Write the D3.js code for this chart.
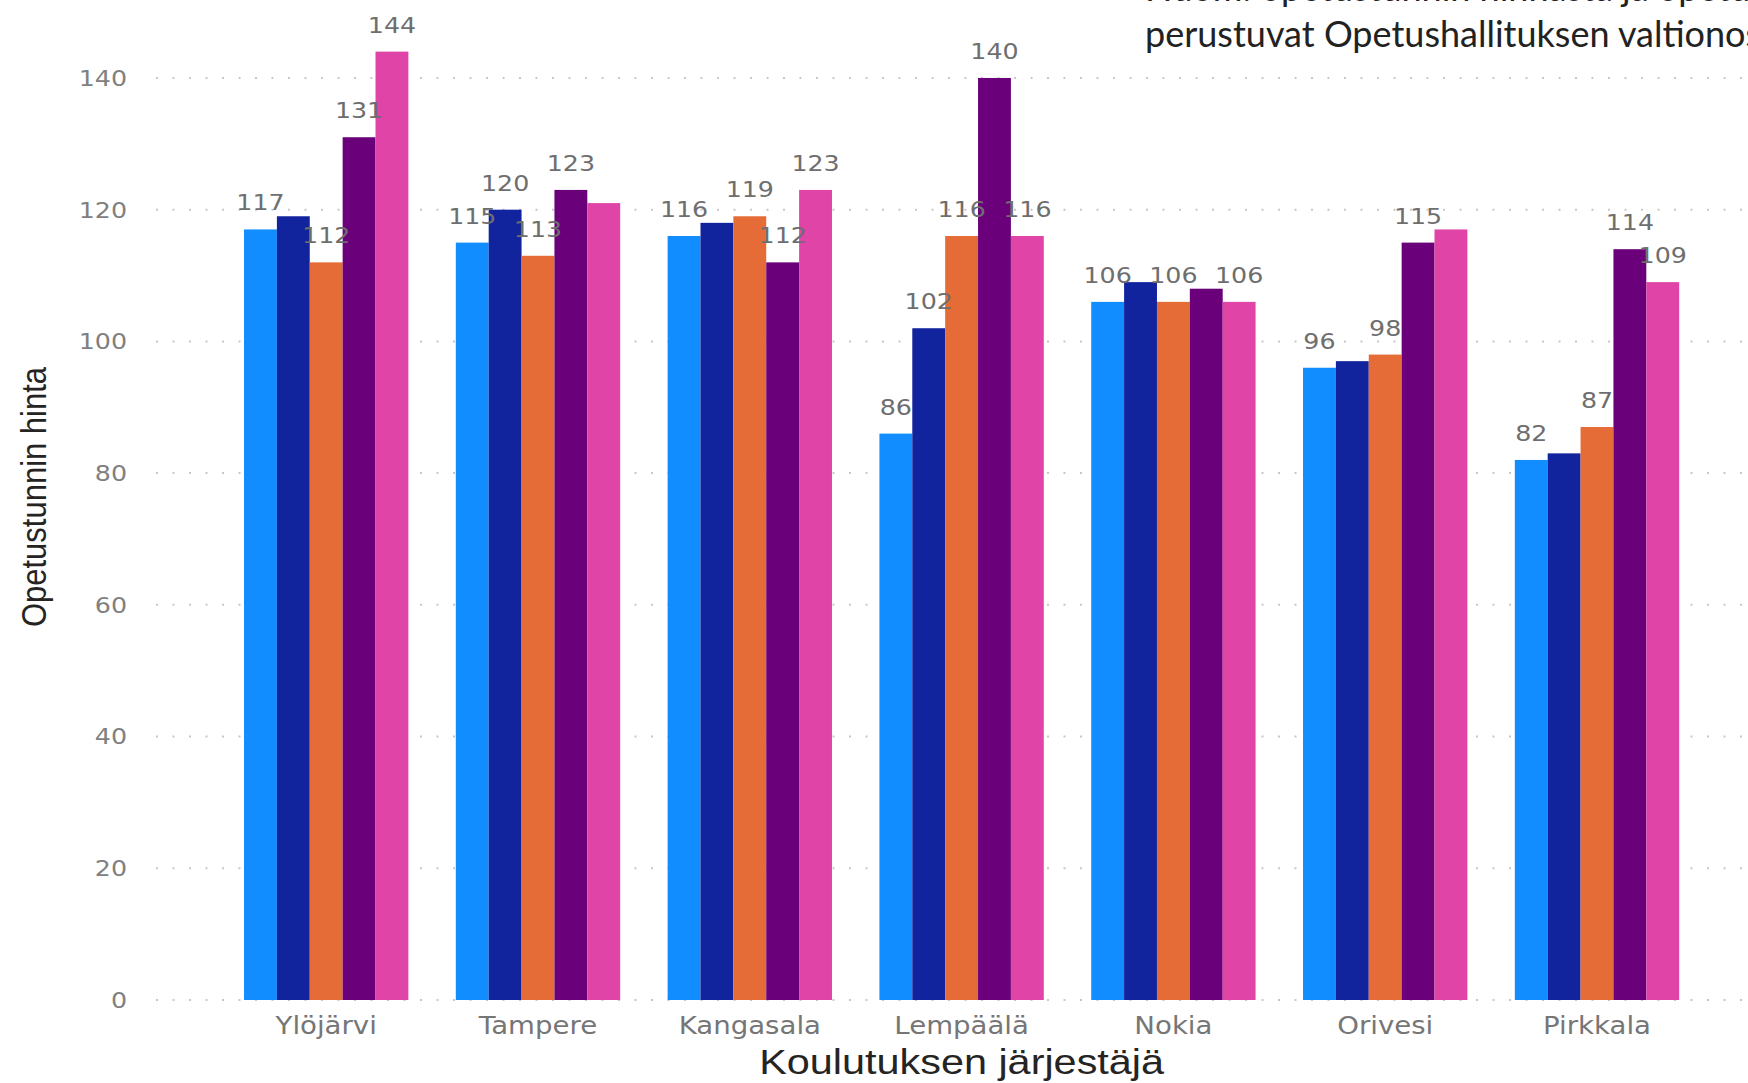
<!DOCTYPE html>
<meta charset="utf-8">
<style>
body { margin: 0; background: #fff; }
svg { display: block; }
.grid line { stroke: #c8c8c8; stroke-width: 2; stroke-dasharray: 2,14.5; }
.tick-label { font: 22px "DejaVu Sans"; fill: #808080; }
.cat-label { font: 24px "DejaVu Sans"; fill: #767676; }
.value-label { font: 22px "DejaVu Sans"; fill: #6e6e6e; }
.axis-title { font: 31px "Liberation Sans"; fill: #252423; }
.note { font: 36px Lato; fill: #222; }
</style>
<body>
<script src="https://cdn.jsdelivr.net/npm/d3@7/dist/d3.min.js"></script>
<script>

// organisers on the x axis
var categories = ["Ylöjärvi", "Tampere", "Kangasala", "Lempäälä", "Nokia", "Orivesi", "Pirkkala"];

// five series, one bar each per organiser (no legend in the picture)
var seriesNames = ["Sarja 1", "Sarja 2", "Sarja 3", "Sarja 4", "Sarja 5"];
var seriesColours = ["#118DFF", "#12239E", "#E66C37", "#6B007B", "#E044A7"];

var sarja1 = [117, 115, 116, 86, 106, 96, 82];
var sarja2 = [119, 120, 118, 102, 109, 97, 83];
var sarja3 = [112, 113, 119, 116, 106, 98, 87];
var sarja4 = [131, 123, 112, 140, 108, 115, 114];
var sarja5 = [144, 121, 123, 116, 106, 117, 109];

// which bars got a data label in the original (power bi hides overlapping ones)
var labels1 = [1, 1, 1, 1, 1, 1, 1];
var labels2 = [0, 1, 0, 1, 0, 0, 0];
var labels3 = [1, 1, 1, 1, 1, 1, 1];
var labels4 = [1, 1, 1, 1, 0, 1, 1];
var labels5 = [1, 0, 1, 1, 1, 0, 1];

var yTicks = [0, 20, 40, 60, 80, 100, 120, 140];

var yTitle = "Opetustunnin hinta";
var xTitle = "Koulutuksen järjestäjä";
var noteLines = ["Huom: opetustunnin hinnasta ja opetustuntimääristä tiedot",
                 "perustuvat Opetushallituksen valtionosuuslaskelmiin"];

var seriesValues = [sarja1, sarja2, sarja3, sarja4, sarja5];
var seriesLabels = [labels1, labels2, labels3, labels4, labels5];

var width = 1748, height = 1083;
var stretch = 1.15;   // the source picture is a bit wider than tall

var svg = d3.select("body").append("svg")
    .attr("width", width)
    .attr("height", height);

var x0 = d3.scaleBand()
    .domain(categories)
    .range([220.3, 1702.9])
    .paddingInner(0.224)
    .paddingOuter(0.112);

var x1 = d3.scaleBand()
    .domain(seriesNames)
    .range([0, x0.bandwidth()])
    .padding(0);

var y = d3.scaleLinear()
    .domain([0, 150])
    .range([1000, 12.1]);

// dotted gridlines
svg.append("g").attr("class", "grid")
  .selectAll("line")
  .data(yTicks)
  .enter().append("line")
    .attr("x1", 156)
    .attr("x2", width)
    .attr("y1", function(d) { return y(d); })
    .attr("y2", function(d) { return y(d); });

// y tick labels
svg.append("g")
  .selectAll("text")
  .data(yTicks)
  .enter().append("text")
    .attr("class", "tick-label")
    .attr("text-anchor", "end")
    .attr("dy", "0.36em")
    .attr("transform", function(d) { return "translate(127," + y(d) + ") scale(" + stretch + ",1)"; })
    .text(function(d) { return d; });

// flatten to one record per bar
var bars = [];
categories.forEach(function(c, i) {
  seriesNames.forEach(function(s, j) {
    bars.push({ cat: c, series: s, value: seriesValues[j][i], label: seriesLabels[j][i], colour: seriesColours[j] });
  });
});

svg.append("g").attr("class", "bars")
  .selectAll("rect")
  .data(bars)
  .enter().append("rect")
    .attr("x", function(d) { return x0(d.cat) + x1(d.series); })
    .attr("y", function(d) { return y(d.value); })
    .attr("width", x1.bandwidth())
    .attr("height", function(d) { return y(0) - y(d.value); })
    .style("fill", function(d) { return d.colour; });

// data labels above bars
svg.append("g")
  .selectAll("text")
  .data(bars.filter(function(d) { return d.label; }))
  .enter().append("text")
    .attr("class", "value-label")
    .attr("text-anchor", "middle")
    .attr("transform", function(d) {
      var cx = x0(d.cat) + x1(d.series) + x1.bandwidth() / 2;
      return "translate(" + cx + "," + (y(d.value) - 19) + ") scale(" + stretch + ",1)";
    })
    .text(function(d) { return d3.format(".0f")(d.value); });

// category labels
svg.append("g")
  .selectAll("text")
  .data(categories)
  .enter().append("text")
    .attr("class", "cat-label")
    .attr("text-anchor", "middle")
    .attr("transform", function(d) { return "translate(" + (x0(d) + x0.bandwidth() / 2) + ",1034) scale(" + stretch + ",1)"; })
    .text(function(d) { return d; });

// axis titles
svg.append("text")
    .attr("class", "axis-title")
    .attr("text-anchor", "middle")
    .attr("transform", "translate(" + ((x0.range()[0] + x0.range()[1]) / 2) + ",1074) scale(" + stretch + ",1)")
    .style("font-size", "36px")
    .text(xTitle);

svg.append("text")
    .attr("class", "axis-title")
    .attr("text-anchor", "middle")
    .attr("transform", "translate(46,497) rotate(-90) scale(1," + stretch + ")")
    .text(yTitle);

// note text in the top right corner, cut off by the picture edge as in the original
svg.append("g")
  .selectAll("text")
  .data(noteLines)
  .enter().append("text")
    .attr("class", "note")
    .attr("x", 1145)
    .attr("y", function(d, i) { return 1 + i * 46; })
    .text(function(d) { return d; });

</script>
</body>
